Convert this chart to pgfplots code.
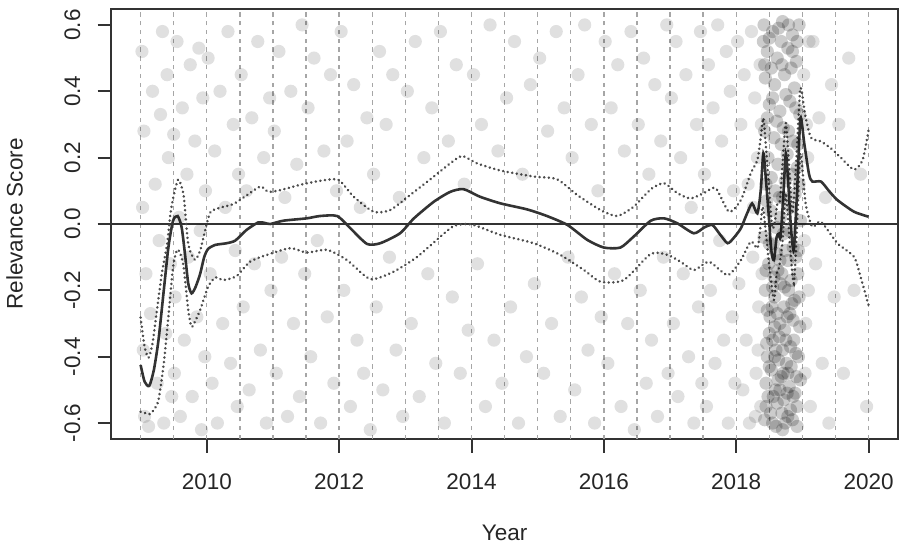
\documentclass[border=0pt]{standalone}
\usepackage{pgfplots}
\pgfplotsset{compat=1.18}
\usepackage{pgfplotstable}
\usepackage{fontspec}
\setmainfont{Liberation Sans}

% background observations (light haze)
\pgfplotstableread{
x y
2009.02 0.52
2009.05 0.28
2009.03 0.05
2009.08 -0.15
2009.04 -0.38
2009.06 -0.58
2009.12 -0.61
2009.18 0.40
2009.22 0.12
2009.15 -0.27
2009.25 -0.48
2009.30 0.33
2009.28 -0.05
2009.35 -0.60
2009.33 0.58
2009.38 -0.33
2009.42 0.20
2009.45 -0.12
2009.47 -0.52
2009.40 0.45
2009.50 0.27
2009.52 -0.22
2009.51 -0.45
2009.55 0.55
2009.58 0.02
2009.60 -0.58
2009.63 0.35
2009.66 -0.35
2009.70 0.15
2009.72 -0.10
2009.75 0.48
2009.78 -0.52
2009.82 0.25
2009.85 -0.28
2009.88 0.53
2009.90 -0.02
2009.92 -0.62
2009.94 0.38
2009.97 -0.40
2009.98 0.10
2010.02 0.50
2010.05 -0.15
2010.08 -0.48
2010.12 0.22
2010.16 -0.60
2010.20 0.40
2010.24 -0.30
2010.28 0.05
2010.32 0.58
2010.36 -0.42
2010.40 0.30
2010.43 -0.08
2010.46 -0.55
2010.48 0.15
2010.52 0.45
2010.55 -0.25
2010.60 0.10
2010.64 -0.50
2010.68 0.32
2010.72 -0.12
2010.77 0.55
2010.81 -0.38
2010.86 0.20
2010.90 -0.60
2010.95 0.38
2010.97 -0.20
2011.02 0.28
2011.05 -0.45
2011.09 0.52
2011.13 -0.10
2011.18 0.08
2011.22 -0.58
2011.27 0.40
2011.31 -0.30
2011.36 0.18
2011.40 -0.52
2011.44 0.60
2011.48 -0.15
2011.53 0.35
2011.57 -0.40
2011.62 0.50
2011.67 -0.05
2011.72 -0.60
2011.77 0.22
2011.82 -0.28
2011.87 0.45
2011.92 -0.48
2011.96 0.10
2012.03 0.58
2012.07 -0.20
2012.12 0.25
2012.17 -0.55
2012.22 0.42
2012.27 -0.35
2012.32 0.05
2012.37 -0.45
2012.42 0.32
2012.47 -0.62
2012.52 0.15
2012.56 -0.25
2012.61 0.52
2012.66 -0.50
2012.71 0.30
2012.76 -0.10
2012.81 0.45
2012.86 -0.38
2012.91 0.08
2012.96 -0.58
2013.03 0.40
2013.09 -0.30
2013.15 0.55
2013.21 -0.52
2013.28 0.20
2013.34 -0.15
2013.40 0.35
2013.46 -0.42
2013.53 0.58
2013.59 -0.60
2013.65 0.25
2013.71 -0.22
2013.77 0.48
2013.83 -0.45
2013.89 0.12
2013.95 -0.32
2014.03 0.45
2014.09 -0.12
2014.15 0.30
2014.21 -0.55
2014.28 0.60
2014.34 -0.35
2014.40 0.22
2014.46 -0.48
2014.53 0.38
2014.59 -0.25
2014.65 0.55
2014.71 -0.60
2014.77 0.15
2014.83 -0.40
2014.89 0.42
2014.95 -0.18
2015.03 0.50
2015.09 -0.45
2015.15 0.28
2015.21 -0.30
2015.28 0.58
2015.34 -0.58
2015.40 0.35
2015.46 -0.10
2015.52 0.20
2015.56 -0.50
2015.61 0.45
2015.66 -0.22
2015.71 0.60
2015.76 -0.38
2015.81 0.30
2015.86 -0.60
2015.91 0.10
2015.96 -0.28
2016.02 0.55
2016.06 -0.42
2016.11 0.35
2016.16 -0.15
2016.21 0.48
2016.26 -0.55
2016.31 0.22
2016.36 -0.30
2016.41 0.58
2016.46 -0.62
2016.52 0.30
2016.55 -0.20
2016.60 0.50
2016.64 -0.48
2016.68 0.15
2016.72 -0.35
2016.77 0.42
2016.81 -0.58
2016.86 0.25
2016.90 -0.10
2016.95 0.60
2016.97 -0.45
2017.02 0.38
2017.05 -0.30
2017.09 0.55
2017.12 -0.52
2017.16 0.20
2017.20 -0.15
2017.24 0.45
2017.28 -0.40
2017.32 0.05
2017.36 -0.60
2017.40 0.30
2017.43 -0.25
2017.46 0.58
2017.48 -0.48
2017.52 0.15
2017.55 -0.55
2017.58 0.48
2017.61 -0.20
2017.65 0.35
2017.68 -0.42
2017.72 0.60
2017.75 -0.05
2017.78 0.25
2017.81 -0.35
2017.85 0.52
2017.88 -0.60
2017.91 0.40
2017.94 -0.28
2017.96 0.10
2017.98 -0.48
2018.02 0.55
2018.04 -0.18
2018.07 0.30
2018.10 -0.50
2018.12 0.45
2018.15 -0.35
2018.18 0.12
2018.20 -0.60
2018.23 0.58
2018.25 -0.10
2018.28 0.38
2018.30 -0.45
2018.32 0.20
2018.34 -0.25
2018.36 0.48
2018.37 -0.55
2018.26 0.05
2018.33 -0.38
2018.29 -0.58
2018.38 0.30
2018.39 -0.15
2019.03 -0.05
2019.06 0.30
2019.04 -0.45
2019.09 -0.20
2019.10 0.55
2019.02 0.45
2019.05 -0.30
2019.08 0.20
2019.12 -0.55
2019.16 0.55
2019.20 -0.12
2019.25 0.32
2019.30 -0.42
2019.35 0.08
2019.40 -0.60
2019.44 0.42
2019.48 -0.22
2019.55 0.30
2019.62 -0.45
2019.70 0.50
2019.78 -0.20
2019.88 0.15
2019.97 -0.55
}\ptsA

% dense cluster of observations in 2018
\pgfplotstableread{
x y
2018.42 0.60
2018.55 0.58
2018.70 0.61
2018.85 0.57
2018.95 0.60
2018.47 0.52
2018.62 0.50
2018.78 0.53
2018.91 0.49
2018.44 0.44
2018.58 0.42
2018.73 0.45
2018.88 0.41
2018.50 0.36
2018.66 0.34
2018.81 0.37
2018.96 0.33
2018.43 0.28
2018.57 0.26
2018.71 0.29
2018.86 0.25
2018.48 0.20
2018.63 0.18
2018.77 0.21
2018.92 0.17
2018.45 0.12
2018.59 0.10
2018.74 0.13
2018.89 0.09
2018.52 0.04
2018.67 0.02
2018.82 0.05
2018.97 0.01
2018.41 0.55
2018.68 0.55
2018.83 0.47
2018.53 0.47
2018.61 0.31
2018.79 0.28
2018.46 0.07
2018.93 0.24
2018.65 0.08
2018.42 -0.04
2018.56 -0.06
2018.71 -0.03
2018.86 -0.07
2018.49 -0.12
2018.63 -0.14
2018.78 -0.11
2018.93 -0.15
2018.44 -0.20
2018.58 -0.22
2018.73 -0.19
2018.88 -0.23
2018.51 -0.28
2018.66 -0.30
2018.81 -0.27
2018.96 -0.31
2018.46 -0.36
2018.60 -0.38
2018.75 -0.35
2018.90 -0.39
2018.53 -0.44
2018.68 -0.46
2018.83 -0.43
2018.97 -0.47
2018.48 -0.52
2018.62 -0.54
2018.77 -0.51
2018.92 -0.55
2018.55 -0.60
2018.70 -0.62
2018.85 -0.59
2018.43 -0.59
2018.50 -0.33
2018.64 -0.41
2018.72 -0.25
2018.80 -0.49
2018.57 -0.16
2018.69 -0.57
2018.87 -0.35
2018.45 -0.48
2018.61 -0.09
2018.76 -0.42
2018.54 -0.25
2018.67 -0.18
2018.82 -0.56
2018.47 -0.40
2018.59 -0.50
2018.74 -0.60
2018.65 -0.34
2018.79 -0.20
2018.52 -0.57
2018.94 -0.08
2018.89 -0.51
2018.58 -0.31
2018.71 -0.45
2018.50 0.56
2018.64 0.59
2018.79 0.60
2018.92 0.55
2018.43 0.48
2018.69 0.48
2018.85 0.52
2018.55 0.38
2018.75 0.39
2018.90 0.35
2018.47 0.32
2018.68 0.24
2018.84 0.15
2018.53 0.14
2018.70 0.08
2018.95 0.12
2018.60 -0.01
2018.80 -0.02
2018.50 -0.06
2018.74 -0.08
2018.90 -0.10
2018.45 -0.14
2018.66 -0.11
2018.83 -0.17
2018.55 -0.19
2018.77 -0.28
2018.95 -0.22
2018.47 -0.26
2018.62 -0.27
2018.86 -0.29
2018.55 -0.35
2018.70 -0.38
2018.82 -0.37
2018.94 -0.40
2018.50 -0.43
2018.63 -0.47
2018.78 -0.45
2018.91 -0.46
2018.56 -0.52
2018.72 -0.53
2018.86 -0.52
2018.45 -0.55
2018.60 -0.61
2018.78 -0.58
2018.92 -0.61
2018.66 -0.50
2018.73 -0.32
2018.58 -0.40
2018.84 -0.24
2018.69 -0.15
}\ptsB

% smoothed trend
\pgfplotstableread{
x y
2009.00 -0.425
2009.06 -0.475
2009.13 -0.488
2009.20 -0.44
2009.27 -0.35
2009.35 -0.20
2009.42 -0.07
2009.49 0.01
2009.56 0.024
2009.62 -0.01
2009.67 -0.09
2009.72 -0.18
2009.77 -0.209
2009.83 -0.19
2009.90 -0.15
2009.96 -0.10
2010.02 -0.075
2010.13 -0.063
2010.30 -0.058
2010.43 -0.050
2010.60 -0.018
2010.78 0.005
2010.88 0.003
2010.96 0.0
2011.16 0.010
2011.51 0.017
2011.71 0.024
2011.97 0.024
2012.17 -0.013
2012.42 -0.060
2012.62 -0.058
2012.92 -0.028
2013.13 0.017
2013.43 0.067
2013.68 0.097
2013.88 0.105
2014.13 0.082
2014.44 0.062
2014.84 0.044
2015.14 0.024
2015.45 -0.003
2015.75 -0.048
2016.00 -0.071
2016.25 -0.071
2016.45 -0.038
2016.71 0.010
2016.91 0.017
2017.11 0.002
2017.36 -0.028
2017.52 -0.01
2017.64 -0.003
2017.75 -0.03
2017.87 -0.058
2017.97 -0.04
2018.07 -0.013
2018.16 0.03
2018.24 0.062
2018.32 0.032
2018.37 0.10
2018.41 0.213
2018.45 0.13
2018.49 0.03
2018.53 -0.08
2018.57 -0.109
2018.61 -0.04
2018.64 -0.03
2018.67 -0.04
2018.71 0.08
2018.75 0.213
2018.79 0.11
2018.83 -0.02
2018.87 -0.078
2018.92 0.10
2018.97 0.319
2019.03 0.24
2019.10 0.15
2019.15 0.128
2019.28 0.128
2019.40 0.10
2019.53 0.072
2019.78 0.037
2020.00 0.022
}\trendtab

\pgfplotstableread{
x y
2009.00 -0.282
2009.06 -0.37
2009.12 -0.403
2009.18 -0.36
2009.24 -0.27
2009.32 -0.15
2009.40 -0.061
2009.45 0.03
2009.50 0.086
2009.57 0.134
2009.65 0.086
2009.72 -0.061
2009.82 -0.108
2009.90 -0.08
2009.95 -0.04
2010.05 0.034
2010.20 0.049
2010.40 0.06
2010.60 0.086
2010.81 0.113
2010.93 0.097
2011.11 0.102
2011.41 0.118
2011.71 0.130
2011.99 0.133
2012.22 0.082
2012.52 0.037
2012.77 0.042
2013.07 0.087
2013.43 0.143
2013.68 0.183
2013.86 0.205
2014.08 0.183
2014.44 0.161
2014.94 0.143
2015.29 0.135
2015.60 0.087
2015.95 0.042
2016.20 0.024
2016.45 0.052
2016.71 0.105
2016.91 0.123
2017.11 0.093
2017.31 0.077
2017.51 0.093
2017.69 0.108
2017.89 0.037
2018.07 0.072
2018.22 0.153
2018.32 0.193
2018.37 0.26
2018.41 0.319
2018.45 0.23
2018.49 0.124
2018.54 -0.008
2018.58 0.00
2018.62 0.06
2018.66 0.07
2018.70 0.18
2018.75 0.304
2018.80 0.17
2018.85 0.032
2018.91 0.20
2018.97 0.409
2019.04 0.33
2019.13 0.26
2019.28 0.249
2019.45 0.225
2019.58 0.20
2019.78 0.164
2019.91 0.193
2020.00 0.283
}\bandup

\pgfplotstableread{
x y
2009.00 -0.566
2009.07 -0.57
2009.14 -0.573
2009.20 -0.56
2009.27 -0.531
2009.35 -0.42
2009.42 -0.279
2009.49 -0.13
2009.55 -0.078
2009.60 -0.09
2009.65 -0.129
2009.72 -0.26
2009.77 -0.310
2009.83 -0.29
2009.90 -0.259
2010.02 -0.189
2010.13 -0.161
2010.25 -0.169
2010.45 -0.157
2010.65 -0.114
2010.91 -0.093
2011.26 -0.073
2011.51 -0.086
2011.82 -0.078
2012.12 -0.109
2012.47 -0.166
2012.82 -0.144
2013.18 -0.099
2013.53 -0.038
2013.73 -0.006
2013.93 0.0
2014.08 -0.006
2014.44 -0.033
2014.94 -0.058
2015.34 -0.093
2015.70 -0.139
2015.95 -0.174
2016.30 -0.169
2016.71 -0.090
2016.96 -0.093
2017.16 -0.114
2017.36 -0.139
2017.59 -0.114
2017.87 -0.154
2018.07 -0.109
2018.22 -0.053
2018.32 -0.073
2018.36 -0.02
2018.40 0.052
2018.45 -0.03
2018.50 -0.129
2018.57 -0.229
2018.61 -0.15
2018.65 -0.129
2018.70 -0.05
2018.75 0.093
2018.81 -0.06
2018.87 -0.179
2018.92 0.0
2018.97 0.213
2019.05 0.06
2019.15 -0.008
2019.28 0.007
2019.53 -0.058
2019.78 -0.099
2019.88 -0.16
2020.00 -0.245
}\banddown

\begin{document}
\begin{tikzpicture}
\begin{axis}[
  name=ax,
  scale only axis,
  width=393.1pt, height=215pt,
  xmin=2008.56, xmax=2020.44,
  ymin=-0.648, ymax=0.648,
  axis line style={line width=1pt, black!80},
  tick pos=left, tick align=outside,
  major tick length=7pt,
  every tick/.style={black!80, line width=1pt},
  xtick={2010,2012,2014,2016,2018,2020},
  xticklabels={2010,2012,2014,2016,2018,2020},
  ytick={-0.6,-0.4,-0.2,0,0.2,0.4,0.6},
  yticklabels={-0.6,-0.4,-0.2,0.0,0.2,0.4,0.6},
  tick label style={font=\fontsize{11.25}{13}\selectfont, text=black!85},
  xticklabel style={anchor=base},
  xticklabel shift=18.5pt,
  yticklabel style={rotate=90, anchor=base},
  yticklabel shift=8.75pt,
  extra x ticks={2009,2009.5,...,2020},
  extra x tick labels={},
  extra x tick style={grid=major, major tick length=0pt},
  major grid style={black!35, line width=0.7pt, dash pattern=on 2.2pt off 2.2pt},
  xlabel={Year}, ylabel={Relevance Score},
  label style={font=\fontsize{11.25}{13}\selectfont, text=black!85},
  xlabel style={at={(axis description cs:0.5,-0.2372)}, anchor=base},
  ylabel style={at={(axis description cs:-0.11295,0.5)}, anchor=base},
]
\addplot[only marks, mark=*, mark size=3.3pt,
  mark options={draw opacity=0, fill=black, fill opacity=0.12}] table {\ptsA};
\addplot[only marks, mark=*, mark size=3.3pt,
  mark options={draw opacity=0, fill=black, fill opacity=0.2}] table {\ptsB};
\addplot[black!80, line width=1pt] coordinates {(2008.56,0) (2020.44,0)};
\addplot[black!70, line width=1.4pt, line cap=round, dash pattern=on 0.01pt off 2.3pt, smooth, tension=0.4] table {\bandup};
\addplot[black!70, line width=1.4pt, line cap=round, dash pattern=on 0.01pt off 2.3pt, smooth, tension=0.4] table {\banddown};
\addplot[black!80, line width=1.3pt, smooth, tension=0.4] table {\trendtab};
\end{axis}
\pgfresetboundingbox
\useasboundingbox ([xshift=-55.75pt,yshift=-54.5pt]ax.south west) rectangle ([xshift=0.65pt,yshift=4.5pt]ax.north east);
\end{tikzpicture}
\end{document}
